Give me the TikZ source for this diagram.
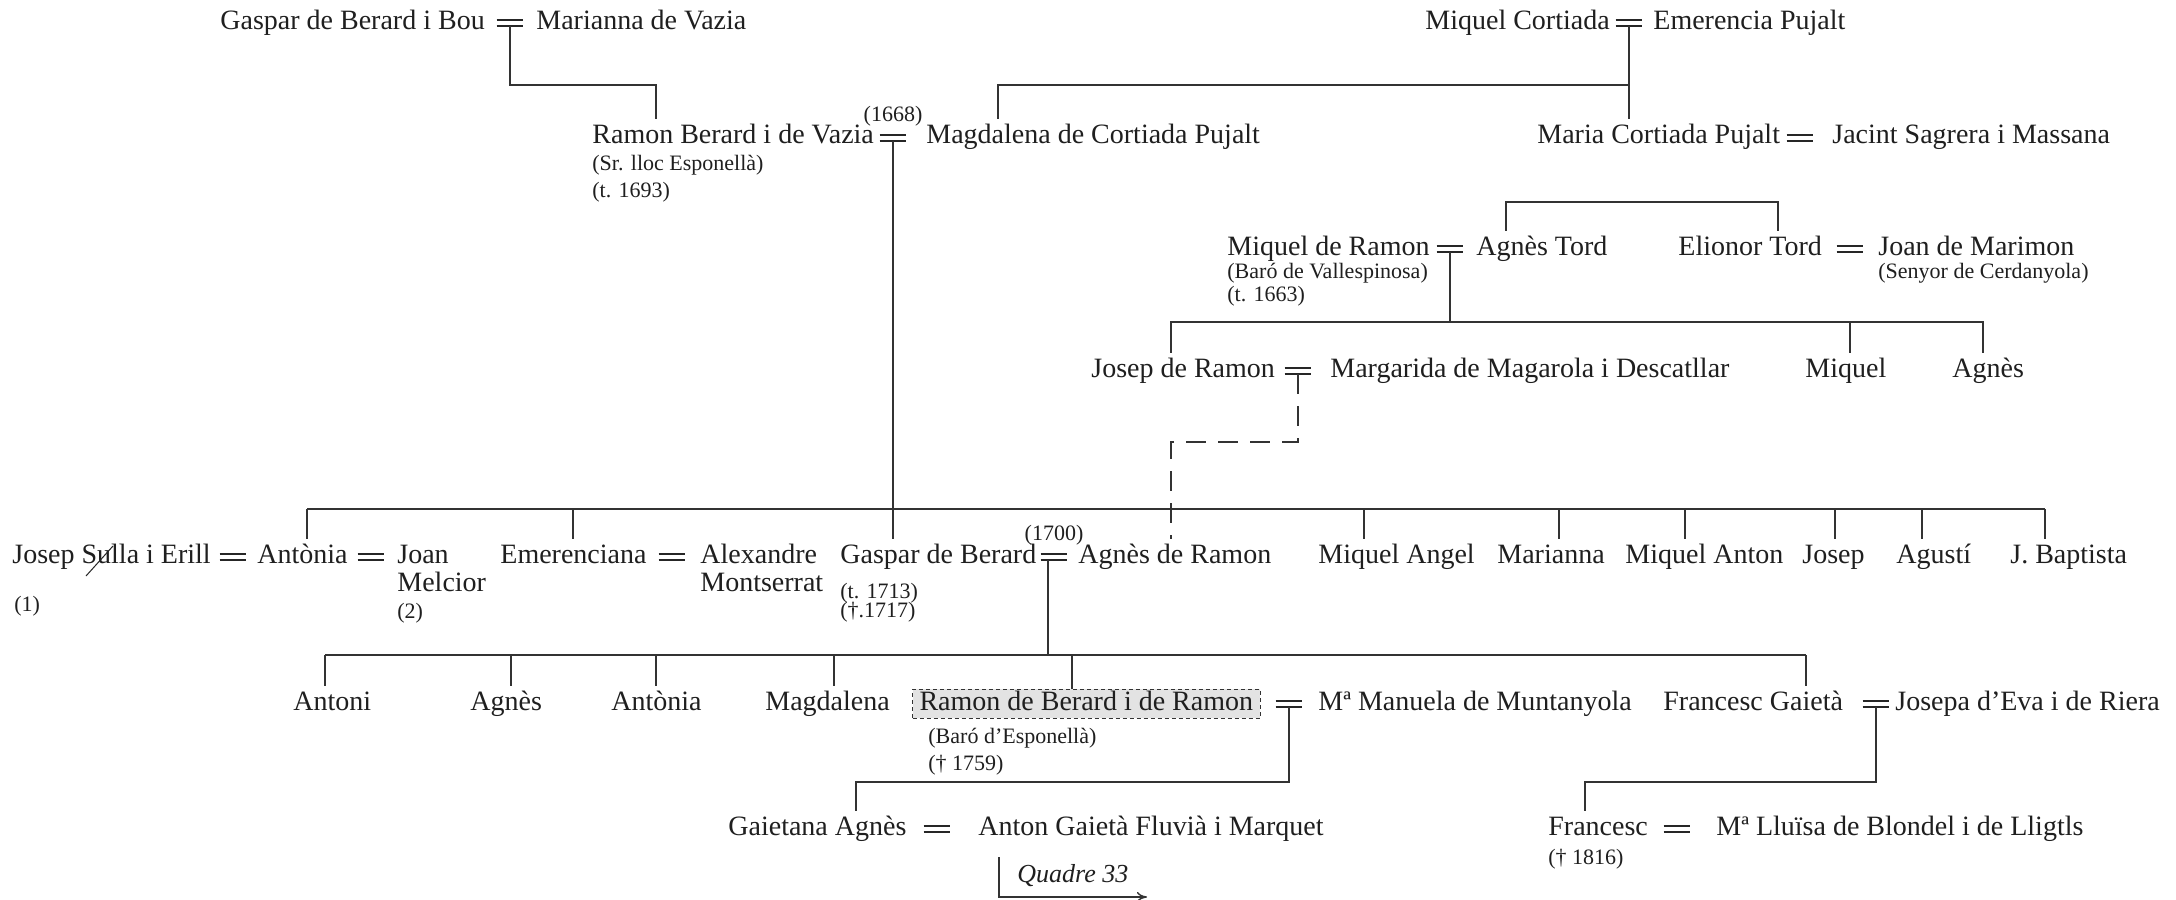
\documentclass[tikz,border=0pt]{standalone}
\usepackage{fontspec}
\setmainfont{Liberation Serif}
\usetikzlibrary{arrows.meta}
\newcommand\fnm{\fontsize{14}{16}\selectfont}
\newcommand\fsm{\fontsize{11}{13}\selectfont}
\newcommand\fqd{\fontsize{13}{15}\selectfont\itshape}
\tikzset{
  nm/.style={anchor=base west, inner sep=1pt, font=\fnm, text=black!88, text height=11pt, text depth=3pt},
  sm/.style={anchor=base west, inner sep=1pt, font=\fsm, text=black!88},
  conn/.style={draw=black!80, line width=0.7pt},
  eq/.style={draw=black!85, line width=0.8pt},
  marr/.style={inner sep=0pt, minimum width=13pt, minimum height=2.75pt},
  famrow/.style={nm, draw=black!80, dash pattern=on 2pt off 1.5pt, line width=0.5pt, fill=black!11, inner xsep=3.5pt, inner ysep=0.5pt, text height=10pt, text depth=3.5pt},
}
\newcommand\marr[3]{\node[marr] (#1) at (#2,#3) {};
  \draw[eq] (#1.north west) -- (#1.north east) (#1.south west) -- (#1.south east);}
\begin{document}
\begin{tikzpicture}[x=0.5pt, y=-0.5pt]
\fill[white] (0,0) rectangle (2176,900);
\useasboundingbox (0,0) rectangle (2176,900);

% ---------- row 1
\node[nm] (gbb) at (218,29) {Gaspar de Berard i Bou};
\marr{mA}{510}{23}
\node[nm] (mv) at (534,29) {Marianna de Vazia};
\node[nm] (mc) at (1423,29) {Miquel Cortiada};
\marr{mB}{1629}{23}
\node[nm] (ep) at (1651,29) {Emerencia Pujalt};

% ---------- row 2
\node[nm] (rbv) at (590,143) {Ramon Berard i de Vazia};
\node[sm] (rbv1) at (590,170) {(Sr. lloc Esponellà)};
\node[sm] (rbv2) at (590,197) {(t. 1693)};
\marr{mC}{893}{138}
\node[sm, anchor=base] (y1668) at (893,121) {(1668)};
\node[nm] (mcp) at (924,143) {Magdalena de Cortiada Pujalt};
\node[nm] (mcpj) at (1535,143) {Maria Cortiada Pujalt};
\marr{mD}{1800}{138}
\node[nm] (jsm) at (1830,143) {Jacint Sagrera i Massana};

\coordinate (kA) at (656,85);
\draw[conn] (mA.south) |- (kA) -- (kA |- rbv.north);
\coordinate (kB) at (998,85);
\draw[conn] (mB.south) -- (mB.south |- mcpj.north);
\draw[conn] (mB.south |- kB) -- (kB) -- (kB |- mcp.north);

% ---------- row 3
\node[nm] (mdr) at (1225,255) {Miquel de Ramon};
\node[sm] (mdr1) at (1225,278) {(Baró de Vallespinosa)};
\node[sm] (mdr2) at (1225,301) {(t. 1663)};
\marr{mE}{1450}{249}
\node[nm] (agt) at (1474,255) {Agnès Tord};
\node[nm] (elt) at (1676,255) {Elionor Tord};
\marr{mF}{1850}{249}
\node[nm] (jdm) at (1876,255) {Joan de Marimon};
\node[sm] (jdm1) at (1876,278) {(Senyor de Cerdanyola)};
\coordinate (kC) at (1506,202);
\coordinate (kD) at (1778,202);
\draw[conn] (kC |- agt.north) -- (kC) -- (kD) -- (kD |- elt.north);

% ---------- row 4
\node[nm] (jdr) at (1089,377) {Josep de Ramon};
\marr{mG}{1298}{371}
\node[nm] (mmd) at (1328,377) {Margarida de Magarola i Descatllar};
\node[nm] (mqu) at (1803,377) {Miquel};
\node[nm] (agn) at (1950,377) {Agnès};

\coordinate (kE) at (1171,322);
\coordinate (kF) at (1850,322);
\coordinate (kG) at (1983,322);
\draw[conn] (mE.south) -- (mE.south |- kE);
\draw[conn] (kE |- jdr.north) -- (kE) -- (kG) -- (kG |- agn.north);
\draw[conn] (kF) -- (kF |- mqu.north);

% ---------- row 5
\node[nm] (jse) at (10,563) {Josep Sulla i Erill};
\draw[line width=0.5pt, black!85] (86,576) -- (113,546);
\node[sm] (n1) at (12,611) {(1)};
\marr{mH}{233}{557}
\node[nm] (ant) at (255,563) {Antònia};
\marr{mI}{371}{557}
\node[nm] (jmc) at (395,563) {Joan};
\node[nm] (jmc2) at (395,591) {Melcior};
\node[sm] (n2) at (395,618) {(2)};
\node[nm] (eme) at (498,563) {Emerenciana};
\marr{mJ}{672}{557}
\node[nm] (alm) at (698,563) {Alexandre};
\node[nm] (alm2) at (698,591) {Montserrat};
\node[nm] (gdb) at (838,563) {Gaspar de Berard};
\node[sm] (gdb1) at (838,598) {(t. 1713)};
\node[sm] (gdb2) at (838,617) {(†.1717)};
\marr{mK}{1054}{557}
\node[sm, anchor=base] (y1700) at (1054,540) {(1700)};
\node[nm] (adr) at (1076,563) {Agnès de Ramon};
\node[nm] (mag) at (1316,563) {Miquel Angel};
\node[nm] (mar) at (1495,563) {Marianna};
\node[nm] (man) at (1623,563) {Miquel Anton};
\node[nm] (jos) at (1800,563) {Josep};
\node[nm] (agu) at (1894,563) {Agustí};
\node[nm] (jba) at (2008,563) {J. Baptista};

% dashed descent
\coordinate (kH) at (1298,442);
\coordinate (kI) at (1171,442);
\draw[conn, dash pattern=on 10pt off 6pt] (mG.south) -- (kH) -- (kI) -- (kI |- adr.north);

% siblings of row 5
\coordinate (pA) at (307,509);
\coordinate (pB) at (573,509);
\coordinate (pC) at (1364,509);
\coordinate (pD) at (1559,509);
\coordinate (pE) at (1685,509);
\coordinate (pF) at (1835,509);
\coordinate (pG) at (1922,509);
\coordinate (pH) at (2045,509);
\draw[conn] (mC.south) -- (mC.south |- gdb.north);
\draw[conn] (pA) -- (pH);
\draw[conn] (pA) -- (pA |- ant.north);
\draw[conn] (pB) -- (pB |- eme.north);
\draw[conn] (pC) -- (pC |- mag.north);
\draw[conn] (pD) -- (pD |- mar.north);
\draw[conn] (pE) -- (pE |- man.north);
\draw[conn] (pF) -- (pF |- jos.north);
\draw[conn] (pG) -- (pG |- agu.north);
\draw[conn] (pH) -- (pH |- jba.north);

% ---------- row 6
\node[nm] (ato) at (291,710) {Antoni};
\node[nm] (agb) at (468,710) {Agnès};
\node[nm] (anb) at (609,710) {Antònia};
\node[nm] (mgd) at (763,710) {Magdalena};
\node[famrow] (rbr) at (912,710) {Ramon de Berard i de Ramon};
\node[sm] (rbr1) at (926,743) {(Baró d’Esponellà)};
\node[sm] (rbr2) at (926,770) {(† 1759)};
\marr{mL}{1289}{704}
\node[nm] (mmm) at (1316,710) {Mª Manuela de Muntanyola};
\node[nm] (fga) at (1661,710) {Francesc Gaietà};
\marr{mM}{1876}{704}
\node[nm] (jer) at (1893,710) {Josepa d’Eva i de Riera};

\coordinate (sA) at (325,655);
\coordinate (sB) at (511,655);
\coordinate (sC) at (656,655);
\coordinate (sD) at (834,655);
\coordinate (sE) at (1072,655);
\coordinate (sF) at (1806,655);
\draw[conn] ([xshift=-3pt]mK.south) -- ([xshift=-3pt]mK.south |- sA);
\draw[conn] (sA) -- (sF);
\draw[conn] (sA) -- (sA |- ato.north);
\draw[conn] (sB) -- (sB |- agb.north);
\draw[conn] (sC) -- (sC |- anb.north);
\draw[conn] (sD) -- (sD |- mgd.north);
\draw[conn] (sE) -- (sE |- rbr.north);
\draw[conn] (sF) -- (sF |- fga.north);

% ---------- row 7
\node[nm] (gag) at (726,835) {Gaietana Agnès};
\marr{mN}{937}{829}
\node[nm] (agf) at (976,835) {Anton Gaietà Fluvià i Marquet};
\node[nm] (frc) at (1546,835) {Francesc};
\node[sm] (frc1) at (1546,864) {(† 1816)};
\marr{mO}{1677}{829}
\node[nm] (mlb) at (1714,835) {Mª Lluïsa de Blondel i de Lligtls};

\coordinate (kK) at (856,782);
\draw[conn] (mL.south) |- (kK) -- (kK |- gag.north);
\coordinate (kL) at (1585,782);
\draw[conn] (mM.south) |- (kL) -- (kL |- frc.north);

% Quadre 33 arrow
\coordinate (qa) at (999,857);
\coordinate (qb) at (1147,897);
\draw[conn, -{To[length=5pt,width=5pt]}] (qa) |- (qb);
\node[nm, font=\fqd] (q33) at (1015,882) {Quadre 33};
\end{tikzpicture}
\end{document}
